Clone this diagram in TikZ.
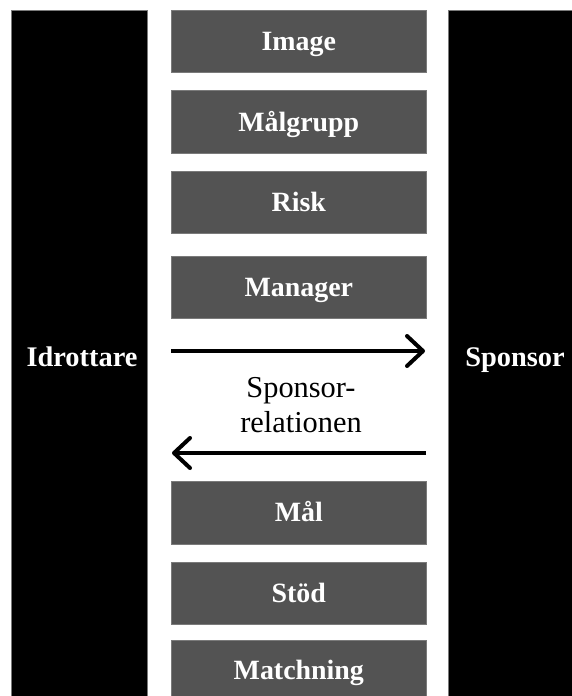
\documentclass[tikz,border=0pt]{standalone}
\usepackage{fontspec}
\setmainfont{Liberation Serif}
\usetikzlibrary{arrows.meta}
\definecolor{boxgray}{HTML}{535353}
\definecolor{edgegray}{HTML}{7A7A7A}
\begin{document}
\begin{tikzpicture}[x=1bp,y=-1bp,
  bar/.style={fill=black,draw=edgegray,line width=0.8bp},
  itembox/.style={fill=boxgray,draw=edgegray,line width=0.6bp,minimum width=255bp,minimum height=62.5bp,inner sep=0pt,anchor=north west,
    text=white,font=\fontsize{28}{32}\selectfont\bfseries,text height=18.5bp,text depth=0pt},
  sidelabel/.style={text=white,font=\fontsize{28.5}{32}\selectfont\bfseries,inner sep=0pt,text height=18.8bp,text depth=0pt},
  reltext/.style={font=\fontsize{30.5}{35}\selectfont,inner sep=0pt,anchor=base},
  flow/.style={line width=4bp,-{Straight Barb[length=16bp,width=30bp,line width=4bp,round]}}]
\useasboundingbox (0,0) rectangle (572,696);
\fill[white] (0,0) rectangle (572,696);
% side columns
\draw[bar] (11,10) rectangle (147,697);
\draw[bar] (448,10) rectangle (573,697);
\node[sidelabel] (athlete) at (82,357) {Idrottare};
\node[sidelabel] (sponsor) at (515,357) {Sponsor};
% factor boxes
\node[itembox] (image)   at (171,10)  {Image};
\node[itembox] (target)  at (171,90.5)  {Målgrupp};
\node[itembox] (risk)    at (171,170.5) {Risk};
\node[itembox] (manager) at (171,255.5) {Manager};
\node[itembox] (goal)    at (171,481) {Mål};
\node[itembox] (support) at (171,561.5) {Stöd};
\node[itembox,minimum height=60bp] (match) at (171,640) {Matchning};
% the relation between the two parties
\coordinate (r1) at (171,351);
\coordinate (r2) at (425,351);
\coordinate (l1) at (426,453);
\coordinate (l2) at (172,453);
\draw[flow] (r1) -- (r2);
\draw[flow] (l1) -- (l2);
\node[reltext] (rel1) at (301,397) {Sponsor-};
\node[reltext] (rel2) at (301,432) {relationen};
\end{tikzpicture}
\end{document}
